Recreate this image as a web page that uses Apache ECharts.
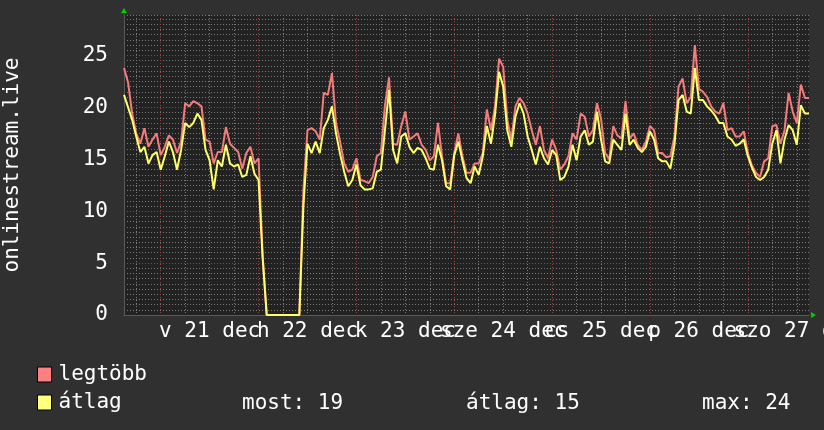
<!DOCTYPE html>
<html><head><meta charset="utf-8">
<script src="https://cdn.jsdelivr.net/npm/echarts@6/dist/echarts.min.js"></script>
<style>html,body{margin:0;padding:0;background:#303030;}#c{width:824px;height:430px;}</style>
</head><body><div id="c"></div>
<script>
const FONT = '"DejaVu Sans Mono", "Liberation Mono", monospace';

// hourly categories: 2025-12-20 15:00 .. 2025-12-27 15:00
const startUTC = Date.UTC(2025, 11, 20, 15);
const hoursCount = 169;
const pad = n => (n < 10 ? '0' : '') + n;
const categories = [];
for (let i = 0; i < hoursCount; i++) {
  const d = new Date(startUTC + i * 3600000);
  categories.push(d.getUTCFullYear() + '-' + pad(d.getUTCMonth() + 1) + '-' + pad(d.getUTCDate()) + ' ' + pad(d.getUTCHours()) + ':00');
}

const dayKeys = ['21', '22', '23', '24', '25', '26', '27'];
const dayLabels = ['v 21 dec', 'h 22 dec', 'k 23 dec', 'sze 24 dec', 'cs 25 dec', 'p 26 dec', 'szo 27 dec'];
const yTicks = [0, 5, 10, 15, 20, 25];

const seriesNames = ['legtöbb', 'átlag'];

const legtobb = [
  23.8,22.4,19.4,17.5,16.5,18.0,16.2,16.9,17.5,15.4,
  16.2,17.3,16.9,15.6,16.7,20.4,20.1,20.6,20.4,20.1,
  16.9,16.7,14.6,15.7,15.7,18.1,16.5,16.1,15.7,14.1,
  15.6,16.2,14.6,15.1,5.8,0,0,0,0,0,
  0,0,0,0,12.0,17.8,18.0,17.7,16.9,21.4,
  21.2,23.3,18.5,16.7,14.6,13.8,14.0,15.1,13.0,12.9,
  12.7,13.3,15.3,15.6,20.2,22.9,16.5,16.4,18.2,19.6,
  16.9,17.2,17.5,16.4,15.9,14.9,15.3,18.5,15.3,12.7,
  12.7,15.6,17.5,15.3,13.7,13.7,14.6,14.6,15.6,19.8,
  17.8,20.1,24.7,23.9,18.8,16.9,20.1,20.9,20.4,19.4,
  17.8,16.4,18.2,15.9,15.1,16.9,15.9,14.0,14.5,15.3,
  17.5,16.9,19.4,19.1,17.2,17.8,20.4,18.9,15.6,15.0,
  18.2,17.3,17.0,20.6,17.0,17.5,16.4,15.9,16.7,18.2,
  17.8,15.6,15.6,15.2,15.3,17.2,22.0,22.8,20.4,21.0,
  26.0,21.8,21.5,21.0,20.1,19.6,19.4,20.4,17.8,18.0,
  17.2,17.2,17.7,15.6,14.4,13.7,13.3,14.8,15.1,18.2,
  18.3,16.5,17.8,21.4,19.6,18.5,22.2,20.9,20.9
];

const atlag = [
  21.2,20.0,18.8,17.2,15.7,16.2,14.6,15.4,15.7,14.0,
  15.3,16.7,15.7,14.0,15.9,18.5,18.1,18.5,19.4,18.8,
  15.9,14.9,12.1,14.9,14.3,16.4,14.6,14.3,14.5,13.3,
  13.5,15.3,13.6,13.0,5.5,0,0,0,0,0,
  0,0,0,0,10.5,16.5,15.6,16.7,15.6,18.0,
  18.8,20.1,17.5,15.5,13.8,12.4,13.0,14.5,12.5,12.1,
  12.1,12.2,13.8,14.0,17.8,21.7,15.9,14.6,17.2,17.5,
  16.2,15.6,16.1,15.9,15.1,14.1,14.0,16.4,14.9,12.4,
  12.1,15.4,16.7,14.9,13.2,12.7,14.3,13.5,15.3,18.2,
  16.5,19.3,23.4,22.0,17.8,16.2,19.1,20.4,19.4,17.2,
  15.9,14.5,16.2,15.1,14.5,15.9,15.4,13.0,13.3,14.3,
  16.4,14.9,17.2,17.8,16.4,16.7,19.6,16.9,14.8,14.6,
  16.9,16.4,15.9,19.4,16.4,16.9,16.1,15.7,16.2,17.7,
  16.9,15.1,14.8,14.8,14.1,16.4,20.7,21.2,19.6,19.4,
  23.8,20.7,20.7,20.1,19.7,19.2,18.5,18.5,17.2,16.9,
  16.3,16.5,16.9,15.3,14.2,13.3,13.0,13.3,14.0,16.5,
  17.8,14.6,16.9,18.3,17.8,16.4,20.2,19.4,19.4
];

const statLabels = ['most: 19', 'átlag: 15', 'max: 24'];

const hourOf = v => parseInt(String(v).slice(11, 13), 10);
const dayIdx = v => dayKeys.indexOf(String(v).slice(8, 10));
const MINOR = '#7a7a7a';
const MAJOR = '#9a4040';
const LINE_RED = '#f47c7c';
const LINE_YEL = '#ffff6a';

// plot geometry (grid)
const G = { left: 124, right: 15, top: 15, bottom: 115 };
const plotH = 430 - G.top - G.bottom;

const labelBase = { color: '#ffffff', fontSize: 21, fontFamily: FONT, hideOverlap: false };

const chart = echarts.init(document.getElementById('c'), null, { renderer: 'canvas' });

chart.setOption({
  backgroundColor: '#303030',
  animation: false,
  textStyle: { fontFamily: FONT },
  grid: {
    left: G.left, right: G.right, top: G.top, bottom: G.bottom, show: true, backgroundColor: '#222222', borderWidth: 0,
    containLabel: false, outerBoundsMode: 'none'
  },
  xAxis: [
    {
      // bottom axis: minor grid (6h) + labels of even-indexed days
      type: 'category', data: categories, boundaryGap: false, position: 'bottom',
      axisLine: { show: true, lineStyle: { color: '#5a5a5a' } },
      axisTick: { show: false },
      axisLabel: Object.assign({}, labelBase, {
        interval: (i, v) => hourOf(v) === 12 && dayIdx(v) % 2 === 0,
        formatter: v => dayLabels[dayIdx(v)] || '',
        margin: 6
      }),
      splitLine: {
        show: true,
        interval: (i, v) => { const h = hourOf(v); return h % 6 === 0 && h !== 0; },
        lineStyle: { color: MINOR, type: [1, 2], width: 1 }
      }
    },
    {
      // top axis: major grid (midnight) + labels of odd-indexed days pushed below the plot
      type: 'category', data: categories, boundaryGap: false, position: 'top',
      axisLine: { show: false }, axisTick: { show: false },
      axisLabel: Object.assign({}, labelBase, {
        interval: (i, v) => hourOf(v) === 12 && dayIdx(v) % 2 === 1,
        formatter: v => dayLabels[dayIdx(v)] || '',
        verticalAlign: 'top',
        margin: -(plotH + 6)
      }),
      splitLine: {
        show: true,
        interval: (i, v) => hourOf(v) === 0,
        lineStyle: { color: MAJOR, type: [1, 2], width: 1 }
      }
    }
  ],
  yAxis: {
    type: 'value', min: 0, max: 28.9, interval: 0.5,
    name: 'onlinestream.live', nameLocation: 'middle', nameGap: 101,
    nameTextStyle: { color: '#ffffff', fontSize: 21, fontFamily: FONT },
    axisLine: { show: true, lineStyle: { color: '#5a5a5a' } },
    axisTick: { show: false },
    axisLabel: {
      color: '#ffffff', fontSize: 21, fontFamily: FONT, margin: 16,
      formatter: v => (yTicks.indexOf(v) >= 0 ? String(v) : '')
    },
    splitLine: {
      show: true,
      lineStyle: { color: [MAJOR, MINOR, MINOR, MINOR, MINOR, MINOR, MINOR, MINOR, MINOR, MINOR], type: [1, 2], width: 1 }
    }
  },
  legend: {
    orient: 'vertical', left: 32, top: 359, itemWidth: 14, itemHeight: 15, itemGap: 7,
    icon: 'rect',
    itemStyle: { borderColor: '#000000', borderWidth: 1 },
    textStyle: { color: '#ffffff', fontSize: 21, fontFamily: FONT, padding: [0, 0, 0, 2] },
    data: [
      { name: seriesNames[0], itemStyle: { color: '#ff8080' } },
      { name: seriesNames[1], itemStyle: { color: '#ffff80' } }
    ],
    selectedMode: false
  },
  graphic: [
    { type: 'text', left: 242, top: 393, style: { text: statLabels[0], fill: '#ffffff', font: '21px ' + FONT } },
    { type: 'text', left: 466, top: 393, style: { text: statLabels[1], fill: '#ffffff', font: '21px ' + FONT } },
    { type: 'text', left: 702, top: 393, style: { text: statLabels[2], fill: '#ffffff', font: '21px ' + FONT } },
    { type: 'polygon', shape: { points: [[121, 13], [127, 13], [124, 8]] }, style: { fill: '#00cc00' } },
    { type: 'polygon', shape: { points: [[811, 312], [811, 318], [816, 315]] }, style: { fill: '#00cc00' } }
  ],
  series: [
    {
      name: seriesNames[0], type: 'line', data: legtobb, xAxisIndex: 0,
      showSymbol: false, symbol: 'none', color: LINE_RED,
      lineStyle: { color: LINE_RED, width: 2 }, z: 2
    },
    {
      name: seriesNames[1], type: 'line', data: atlag, xAxisIndex: 0,
      showSymbol: false, symbol: 'none', color: LINE_YEL,
      lineStyle: { color: LINE_YEL, width: 2 }, z: 3
    }
  ]
});
</script>
</body></html>
